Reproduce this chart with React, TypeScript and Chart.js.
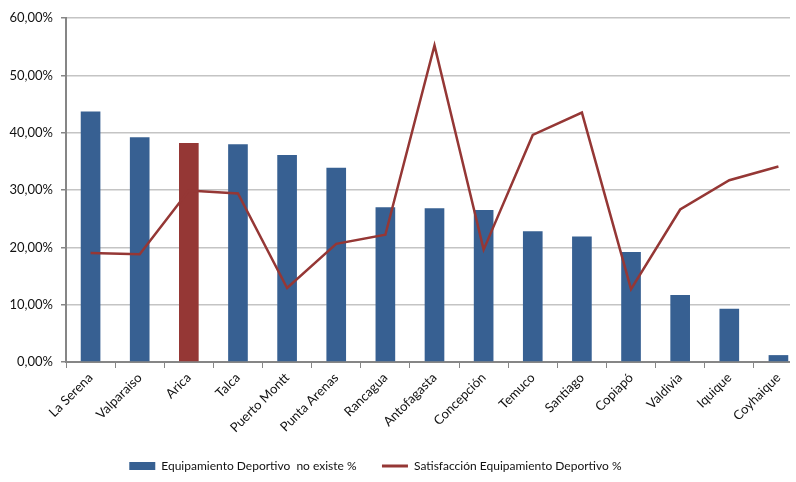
import React, { useEffect, useRef } from "react";
import { Chart, registerables } from "chart.js";

Chart.register(...registerables);

const categories = [
  "La Serena", "Valparaiso", "Arica", "Talca", "Puerto Montt", "Punta Arenas", "Rancagua",
  "Antofagasta", "Concepción", "Temuco", "Santiago", "Copiapó", "Valdivia", "Iquique", "Coyhaique",
];
const noExiste = [43.7, 39.2, 38.2, 38.0, 36.1, 33.9, 27.0, 26.8, 26.5, 22.8, 21.9, 19.2, 11.7, 9.3, 1.2];
const satisfaccion = [19.0, 18.8, 29.9, 29.4, 12.9, 20.6, 22.2, 55.2, 19.6, 39.6, 43.5, 12.7, 26.6, 31.7, 34.1];
const barLabel = "Equipamiento Deportivo  no existe %";
const lineLabel = "Satisfacción Equipamiento Deportivo %";
const yMin = 0;
const yMax = 60;
const yStep = 10;

const BLUE = "#376092";
const RED = "#953735";
const highlight = "Arica";

export default function App() {
  const ref = useRef<HTMLCanvasElement | null>(null);
  useEffect(() => {
    if (!ref.current) return;
    Chart.defaults.font.family = "Lato, 'DejaVu Sans', sans-serif";
    Chart.defaults.color = "#111";
    const chart = new Chart(ref.current, {
      type: "bar",
      data: {
        labels: categories,
        datasets: [
          {
            type: "bar",
            label: barLabel,
            data: noExiste,
            backgroundColor: categories.map((c) => (c === highlight ? RED : BLUE)),
            categoryPercentage: 0.5,
            barPercentage: 0.8,
            order: 1,
          } as any,
          {
            type: "line",
            label: lineLabel,
            data: satisfaccion,
            borderColor: RED,
            backgroundColor: RED,
            borderWidth: 2.5,
            pointRadius: 0,
            tension: 0,
            order: 0,
          } as any,
        ],
      },
      options: {
        responsive: false,
        animation: false,
        layout: { padding: { top: 18, right: 7, left: 0, bottom: 0 } },
        plugins: {
          tooltip: { enabled: false },
          legend: {
            position: "bottom",
            labels: {
              usePointStyle: true,
              pointStyleWidth: 26,
              boxHeight: 8,
              padding: 10,
              font: { size: 12 },
              color: "#111",
              sort: (a: any, b: any) => a.datasetIndex - b.datasetIndex,
              generateLabels: (ch: any) => {
                const items = Chart.defaults.plugins.legend.labels.generateLabels(ch);
                return items.map((it: any) => {
                  if (it.datasetIndex === 0) {
                    return { ...it, pointStyle: "rect", fillStyle: BLUE, strokeStyle: BLUE, lineWidth: 0, text: it.text + "     " };
                  }
                  return { ...it, pointStyle: "line", strokeStyle: RED, lineWidth: 3, text: it.text + "                 " };
                });
              },
            },
          },
        },
        scales: {
          x: {
            offset: true,
            grid: {
              display: true,
              drawOnChartArea: false,
              drawTicks: true,
              tickLength: 6,
              tickColor: "#868686",
              offset: true,
            },
            border: { color: "#868686", width: 2 },
            ticks: {
              maxRotation: 45,
              minRotation: 45,
              autoSkip: false,
              font: { size: 13 },
              padding: 2,
            },
            afterFit: (s: any) => {
              s.height = 88;
            },
          },
          y: {
            min: yMin,
            max: yMax,
            ticks: {
              stepSize: yStep,
              font: { size: 13 },
              padding: 8,
              callback: (v: any) => Number(v).toFixed(2).replace(".", ",") + "%",
            },
            grid: {
              color: "#c4c4c4",
              lineWidth: 1.5,
              tickLength: 5,
              tickColor: "#868686",
            },
            border: { color: "#868686", width: 2 },
            afterFit: (s: any) => {
              s.width = 66;
            },
          },
        },
      },
    });
    return () => chart.destroy();
  }, []);
  return (
    <div style={{ position: "fixed", left: 0, top: 0, width: 790, height: 482, overflow: "hidden", background: "#fff" }}>
      <canvas ref={ref} width={810} height={482} style={{ width: 810, height: 482, display: "block" }} />
    </div>
  );
}
